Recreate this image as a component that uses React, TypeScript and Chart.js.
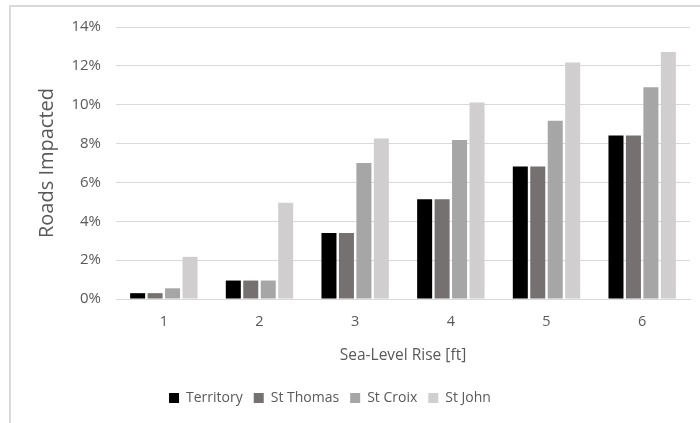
import React, { useEffect, useRef } from "react";
import { Chart, registerables } from "chart.js";

Chart.register(...registerables);

const categories = ["1", "2", "3", "4", "5", "6"];
const territory = [0.3, 0.95, 3.4, 5.14, 6.82, 8.42];
const stThomas = [0.3, 0.95, 3.4, 5.14, 6.82, 8.42];
const stCroix = [0.55, 0.95, 7.0, 8.18, 9.17, 10.9];
const stJohn = [2.17, 4.95, 8.26, 10.12, 12.17, 12.71];

const FONT = "'Open Sans', sans-serif";
const TEXT = "#595959";

const framePlugin = {
  id: "frame",
  beforeDraw(chart: any) {
    const ctx = chart.ctx;
    ctx.save();
    ctx.fillStyle = "#ffffff";
    ctx.fillRect(0, 0, chart.width, chart.height);
    ctx.strokeStyle = "#d9d9d9";
    ctx.lineWidth = 2;
    ctx.beginPath();
    ctx.moveTo(10, chart.height + 5);
    ctx.lineTo(10, 6);
    ctx.lineTo(chart.width + 5, 6);
    ctx.stroke();
    ctx.restore();
  },
  afterLayout(chart: any) {
    const lg = chart.legend;
    if (lg) {
      lg.left -= 28;
      lg.right -= 28;
    }
  },
};

export default function App() {
  const ref = useRef<HTMLCanvasElement>(null);
  useEffect(() => {
    if (!ref.current) return;
    const chart = new Chart(ref.current, {
      type: "bar",
      data: {
        labels: categories,
        datasets: [
          { label: "Territory", data: territory, backgroundColor: "#000000" },
          { label: "St Thomas", data: stThomas, backgroundColor: "#767171" },
          { label: "St Croix", data: stCroix, backgroundColor: "#a6a6a6" },
          { label: "St John", data: stJohn, backgroundColor: "#d0cece" },
        ],
      },
      options: {
        responsive: false,
        animation: false,
        layout: { padding: { left: 26, right: 10, top: 27, bottom: 8 } },
        datasets: { bar: { barPercentage: 0.86, categoryPercentage: 0.73 } } as any,
        plugins: {
          legend: {
            position: "bottom",
            labels: {
              font: { family: FONT, size: 14 },
              color: TEXT,
              boxWidth: 10,
              boxHeight: 10,
              padding: 11,
            },
          },
          tooltip: { enabled: false },
        },
        scales: {
          x: {
            grid: { display: false, drawTicks: false },
            border: { color: "#d9d9d9", width: 1 },
            ticks: { font: { family: FONT, size: 14.5 }, color: TEXT, padding: 14 },
            title: {
              display: true,
              text: "Sea-Level Rise [ft]",
              font: { family: FONT, size: 15.5 },
              color: TEXT,
              padding: { top: 0, bottom: 15 },
            },
            afterFit(scale: any) {
              scale.height = 81;
            },
          },
          y: {
            min: 0,
            max: 14,
            grid: { color: "#d9d9d9", drawTicks: false },
            border: { display: false },
            ticks: {
              stepSize: 2,
              font: { family: FONT, size: 15 },
              color: TEXT,
              padding: 15,
              callback: (v: any) => v + "%",
            },
            title: {
              display: true,
              text: "Roads Impacted",
              font: { family: FONT, size: 20 },
              color: TEXT,
              padding: { top: 9, bottom: 0 },
            },
            afterFit(scale: any) {
              scale.width = 90;
            },
          },
        },
      },
      plugins: [framePlugin],
    });
    return () => chart.destroy();
  }, []);
  return (
    <div style={{ position: "fixed", left: 0, top: 0, width: 700, height: 423 }}>
      <canvas ref={ref} width={700} height={423} />
    </div>
  );
}
